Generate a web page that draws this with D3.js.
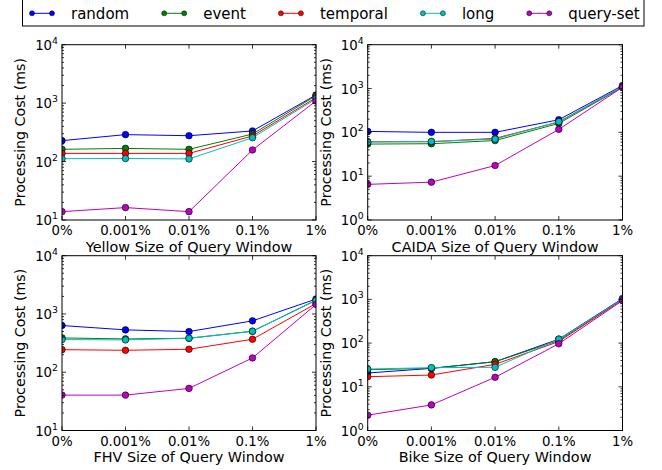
<!DOCTYPE html>
<html><head><meta charset="utf-8">
<script src="https://cdn.jsdelivr.net/npm/d3@7"></script>
<style>body{margin:0;background:#fff} svg{font-family:"DejaVu Sans",sans-serif;display:block}</style>
</head><body><svg id="c" width="662" height="470"></svg>
<script>
// ---- data ----
const categories = ["0%", "0.001%", "0.01%", "0.1%", "1%"];
const seriesNames = ["random", "event", "temporal", "long", "query-set"];
const seriesColors = ["#0000ff", "#008000", "#ff0000", "#00bfbf", "#bf00bf"];
const datasetNames = ["Yellow", "CAIDA", "FHV", "Bike"];

// rows: random, event, temporal, long, query-set
const yellowValues = [
  [228, 289, 277, 334, 1377],
  [162, 168, 162, 296, 1340],
  [138, 138, 138, 274, 1240],
  [112, 113, 111, 256, 1180],
  [13.9, 16.3, 13.9, 158, 1090]
];
const caidaValues = [
  [105, 100, 100, 194, 1170],
  [54, 55, 65, 160, 1070],
  [61, 61, 73, 172, 1110],
  [60, 62, 70, 175, 1110],
  [6.5, 7.3, 17.5, 117, 1070]
];
const fhvValues = [
  [633, 533, 499, 762, 1800],
  [388, 373, 383, 505, 1727],
  [244, 238, 248, 368, 1510],
  [363, 359, 383, 505, 1700],
  [40.5, 40.5, 52.8, 176, 1456]
];
const bikeValues = [
  [20.7, 26.4, 37.5, 123, 1045],
  [24.6, 26.4, 37.5, 115, 1000],
  [17, 18.6, 32.6, 109, 975],
  [25.5, 27.4, 27.9, 123, 1000],
  [2.24, 3.85, 16.5, 96.6, 940]
];
const yExponentsYellow = [1, 2, 3, 4];
const yExponentsCaida = [0, 1, 2, 3, 4];
const yExponentsFhv = [1, 2, 3, 4];
const yExponentsBike = [0, 1, 2, 3, 4];

// ---- layout ----
const svg = d3.select("#c");
const panels = [
  {name: datasetNames[0], values: yellowValues, exps: yExponentsYellow, left: 62, right: 316, top: 44.7, bottom: 220, labelX: 24.5},
  {name: datasetNames[1], values: caidaValues, exps: yExponentsCaida, left: 367.7, right: 622.5, top: 44.7, bottom: 220, labelX: 331},
  {name: datasetNames[2], values: fhvValues, exps: yExponentsFhv, left: 62, right: 316, top: 255.7, bottom: 430.5, labelX: 24.5},
  {name: datasetNames[3], values: bikeValues, exps: yExponentsBike, left: 367.7, right: 622.5, top: 255.7, bottom: 430.5, labelX: 331}
];

panels.forEach((p, pi) => {
  const g = svg.append("g");
  const x = d3.scalePoint().domain(categories).range([p.left, p.right]);
  const e0 = p.exps[0], e1 = p.exps[p.exps.length - 1];
  const y = d3.scaleLog().domain([Math.pow(10, e0), Math.pow(10, e1)]).range([p.bottom, p.top]);

  const clipId = "clip" + pi;
  g.append("clipPath").attr("id", clipId).append("rect")
    .attr("x", p.left).attr("y", p.top).attr("width", p.right - p.left).attr("height", p.bottom - p.top);

  const plot = g.append("g").attr("clip-path", `url(#${clipId})`);
  const line = d3.line().x((d, i) => x(categories[i])).y(d => y(d));
  p.values.forEach((vals, si) => {
    plot.append("path").datum(vals).attr("d", line)
      .attr("fill", "none").attr("stroke", seriesColors[si]).attr("stroke-width", 1);
    plot.selectAll(null).data(vals).enter().append("circle")
      .attr("cx", (d, i) => x(categories[i])).attr("cy", d => y(d)).attr("r", 3.3)
      .attr("fill", seriesColors[si]).attr("stroke", "#000").attr("stroke-width", 0.6);
  });

  // ticks (inward, all four sides)
  const tk = g.append("g").attr("stroke", "#000").attr("stroke-width", 0.8);
  categories.forEach(c => {
    const xx = x(c);
    tk.append("line").attr("x1", xx).attr("x2", xx).attr("y1", p.bottom).attr("y2", p.bottom - 4);
    tk.append("line").attr("x1", xx).attr("x2", xx).attr("y1", p.top).attr("y2", p.top + 4);
  });
  for (let e = e0; e <= e1; e++) {
    const yy = y(Math.pow(10, e));
    tk.append("line").attr("x1", p.left).attr("x2", p.left + 4).attr("y1", yy).attr("y2", yy);
    tk.append("line").attr("x1", p.right).attr("x2", p.right - 4).attr("y1", yy).attr("y2", yy);
    if (e < e1) {
      for (let m = 2; m <= 9; m++) {
        const ym = y(m * Math.pow(10, e));
        tk.append("line").attr("x1", p.left).attr("x2", p.left + 2).attr("y1", ym).attr("y2", ym);
        tk.append("line").attr("x1", p.right).attr("x2", p.right - 2).attr("y1", ym).attr("y2", ym);
      }
    }
  }

  // frame
  g.append("rect").attr("x", p.left).attr("y", p.top).attr("width", p.right - p.left).attr("height", p.bottom - p.top)
    .attr("fill", "none").attr("stroke", "#000").attr("stroke-width", 1);

  // x tick labels
  categories.forEach(c => {
    g.append("text").attr("x", x(c)).attr("y", p.bottom + 15).attr("text-anchor", "middle")
      .attr("font-size", 13.3).attr("fill", "#000").text(c);
  });
  // y tick labels 10^e
  p.exps.forEach(e => {
    const t = g.append("text").attr("x", p.left - 4).attr("y", y(Math.pow(10, e)) + 5)
      .attr("text-anchor", "end").attr("font-size", 13.3).attr("fill", "#000");
    t.append("tspan").text("10");
    t.append("tspan").attr("dy", -6).attr("font-size", 9.3).text(String(e));
  });
  // axis labels
  g.append("text").attr("x", (p.left + p.right) / 2).attr("y", p.bottom + 31.5).attr("text-anchor", "middle")
    .attr("font-size", 14.4).attr("fill", "#000").text(p.name + " Size of Query Window");
  g.append("text").attr("transform", `translate(${p.labelX},${(p.top + p.bottom) / 2}) rotate(-90)`)
    .attr("text-anchor", "middle").attr("font-size", 14.2).attr("fill", "#000").text("Processing Cost (ms)");
});

// ---- legend ----
const lg = svg.append("g");
lg.append("rect").attr("x", 22.5).attr("y", -1).attr("width", 621.5).attr("height", 27)
  .attr("fill", "#fff").attr("stroke", "#000").attr("stroke-width", 1);
let lx = 32;
seriesNames.forEach((n, i) => {
  lg.append("line").attr("x1", lx).attr("x2", lx + 20).attr("y1", 13.3).attr("y2", 13.3)
    .attr("stroke", seriesColors[i]).attr("stroke-width", 1);
  [lx, lx + 20].forEach(cx => lg.append("circle").attr("cx", cx).attr("cy", 13.3).attr("r", 2.5)
    .attr("fill", seriesColors[i]).attr("stroke", "#000").attr("stroke-width", 0.5));
  const t = lg.append("text").attr("x", lx + 39).attr("y", 18.5).attr("font-size", 15).attr("fill", "#000").text(n);
  lx = lx + 39 + t.node().getComputedTextLength() + 35;
});
</script></body></html>
